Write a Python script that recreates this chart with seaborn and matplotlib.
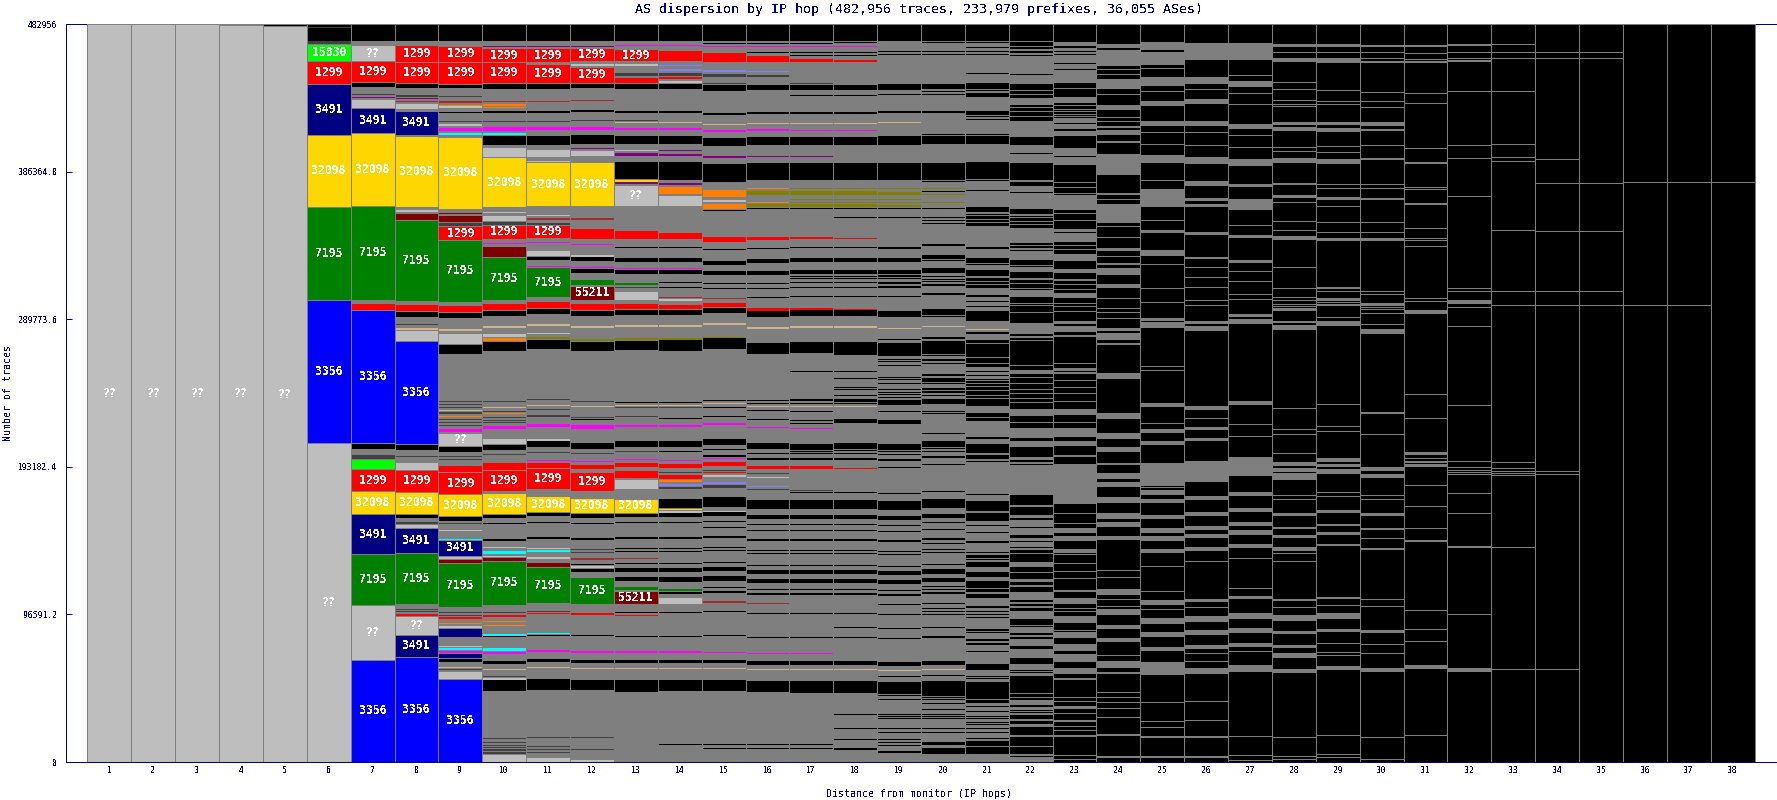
import numpy as np
import pandas as pd
import seaborn as sns
import matplotlib
matplotlib.use("Agg")
import matplotlib.pyplot as plt

TOTAL = 482956
y_ticks = [0, 96591.2, 193182.4, 289773.6, 386364.8, 482956]
y_tick_labels = ["0", "96591.2", "193182.4", "289773.6", "386364.8", "482956"]
hops = list(range(1, 39))

# AS groups (labelled ones carry their number)
R, B, N, G, Y, L, M, Q = "1299", "3356", "3491", "7195", "32098", "15830", "55211", "??"
X, K, P, U, O, T, C, D, E, A, V, W = "rest", "none", "mag", "pur", "ora", "tan", "cya", "bro", "mar", "dgr", "oli", "lav"
LABELLED = [R, B, N, G, Y, L, M, Q]

colors = {R: "#ff0000", B: "#0000ff", N: "#000080", G: "#008000", Y: "#ffd700", L: "#00ff00",
          M: "#7f0000", Q: "#bebebe", X: "#7f7f7f", K: "#000000", P: "#ff00ff", U: "#800080",
          O: "#ff7f00", T: "#d2b48c", C: "#00ffff", D: "#a52a2a", E: "#7f0000", A: "#404040",
          V: "#808000", W: "#8080ff"}

# traces per AS at each hop, listed from the top of the column down
hop01 = [Q, 482956]
hop02 = [Q, 482956]
hop03 = [Q, 482956]
hop04 = [X, 655, Q, 482301]
hop05 = [X, 655, K, 655, Q, 481646]
hop06 = [K, 1770, A, 655, K, 8515, A, 1965, L, 11460, R, 14410, N, 33405, Y, 47160, G, 60915, B, 93665, Q, 209260]
hop07 = [K, 10680, X, 2820, Q, 10810, R, 13755, K, 3275, X, 4260, A, 980, X, 980, U, 980, X, 655, Q, 5570, N, 16700,
         Y, 47490, G, 61245, X, 1965, R, 4585, B, 87115, K, 3930, X, 3275, A, 3275, L, 6880, R, 14080, Y, 15390,
         N, 26200, G, 33405, Q, 35695, B, 66810]
hop08 = [K, 10680, X, 2820, R, 10480, R, 13755, K, 3080, X, 4390, A, 1110, X, 655, U, 655, X, 1510, D, 655, X, 460,
         Q, 3470, X, 1510, N, 15065, X, 655, Y, 45650, X, 1510, Q, 1310, X, 655, E, 4585, G, 51745, X, 1965, R, 4585,
         K, 3930, X, 4390, A, 655, X, 850, T, 1965, Q, 6900, B, 65700, K, 3930, X, 3930, A, 655, X, 3470, Q, 5045,
         R, 13560, Y, 14410, K, 2620, X, 1770, A, 2160, Q, 2425, N, 15720, G, 32750, X, 2820, A, 655, X, 1110, A, 655,
         X, 850, R, 1510, Q, 11790, N, 14410, B, 66810]
hop09 = [K, 10680, X, 2820, R, 10480, R, 13755, K, 3080, X, 5045, A, 655, X, 2620, D, 655, X, 1310, O, 1110, Q, 1310,
         X, 2160, K, 1110, X, 4580, A, 655, X, 1770, Q, 850, X, 655, P, 2620, X, 655, C, 1965, X, 980, Y, 45850,
         X, 2820, E, 655, X, 655, E, 4585, A, 2620, R, 8710, G, 39300, X, 1965, R, 4585, K, 3930, X, 5895, T, 1965,
         X, 1310, Q, 7205, K, 6550, X, 29700, A, 655, X, 1310, A, 655, X, 1310, A, 655, X, 850, T, 655, X, 1110,
         A, 850, X, 1310, O, 850, X, 1510, A, 655, X, 1310, A, 655, X, 655, A, 655, X, 1310, P, 2620, X, 655,
         Q, 8320, K, 3930, X, 2620, A, 655, X, 1000, A, 655, X, 3080, R, 5045, R, 13560, Y, 14410, K, 2620, X, 1770,
         A, 655, X, 3470, Q, 655, X, 5240, C, 655, N, 9825, X, 980, Q, 1110, E, 2620, G, 28165, X, 2820, A, 655,
         X, 1310, A, 655, X, 655, R, 1510, X, 2425, O, 655, X, 655, Q, 1965, N, 5700, X, 5895, Q, 655, C, 1965,
         P, 1965, N, 2620, X, 980, K, 1965, X, 3275, T, 655, X, 655, A, 655, X, 655, Q, 4585, B, 53055]
hop10 = [K, 10680, X, 2950, U, 655, X, 1110, R, 8515, R, 13755, K, 3470, X, 7860, D, 655, X, 1310, O, 1110, X, 655,
         O, 655, X, 2160, K, 1110, X, 5300, A, 655, X, 2620, P, 2620, X, 1310, C, 1310, X, 1110, K, 5440, X, 1310,
         Q, 6550, Y, 31900, X, 2820, Q, 655, X, 1310, Q, 3930, A, 2620, R, 8710, X, 3080, P, 655, X, 1310, E, 6550,
         G, 27510, X, 1965, R, 4585, K, 3930, X, 5895, T, 1965, X, 2620, Q, 2620, O, 2620, K, 6550, X, 32000, A, 655,
         X, 2800, T, 655, X, 1965, A, 655, X, 655, O, 850, X, 1770, A, 655, X, 1200, A, 655, X, 1000, A, 655, X, 1200,
         P, 2620, X, 5240, Q, 3930, K, 3930, X, 2620, A, 655, X, 4500, R, 5045, R, 13560, X, 980, Y, 13755, K, 2620,
         X, 3275, K, 655, X, 9170, K, 1310, X, 3930, Q, 850, X, 1110, C, 2620, X, 980, Q, 655, E, 2620, G, 28165,
         X, 4585, A, 655, X, 850, R, 1310, X, 2620, O, 655, X, 1965, O, 655, X, 5300, C, 1310, K, 655, X, 7205,
         C, 1310, X, 655, P, 1310, X, 4585, K, 1965, X, 3275, T, 655, X, 3930, A, 655, X, 655, Q, 1310, K, 6550,
         X, 30130, A, 655, X, 1965, A, 655, X, 1310, A, 655, X, 655, A, 655, X, 655, A, 1310, X, 655, A, 1110, Q, 5240]
hop11 = [K, 10680, X, 3080, U, 655, X, 1110, R, 8515, X, 1510, R, 12250, K, 3470, X, 7860, D, 655, X, 5895, K, 1110,
         X, 5300, A, 655, X, 2700, P, 2620, X, 3730, K, 5440, X, 2620, Q, 5240, X, 2620, Q, 655, Y, 28620, X, 5440,
         Q, 655, X, 655, D, 1965, X, 1310, A, 1965, R, 8060, X, 3080, P, 655, X, 3930, Q, 3930, K, 2620, X, 3930,
         P, 655, G, 19650, X, 1965, R, 4585, K, 3930, X, 5895, T, 1965, X, 4585, Q, 655, X, 1110, V, 2160, K, 6550,
         X, 32000, A, 655, X, 2800, T, 655, X, 1965, A, 655, X, 3275, A, 1310, X, 3930, P, 2620, X, 7860, Q, 1310,
         K, 3930, X, 2620, A, 655, X, 4700, P, 655, X, 500, R, 3930, R, 13560, X, 4585, Y, 10480, K, 2620, X, 3275,
         K, 655, X, 9170, K, 1310, X, 5895, Q, 655, X, 655, C, 1310, X, 2620, Q, 1965, X, 1965, E, 3275, G, 22925,
         X, 4780, A, 655, X, 850, R, 850, X, 11790, C, 655, X, 655, K, 655, X, 9170, P, 1310, X, 4585, K, 1965,
         X, 3275, T, 655, X, 7205, K, 6550, X, 30130, A, 655, X, 5240, A, 655, X, 1310, A, 655, X, 1310, A, 655,
         X, 2620, Q, 3275]
hop12 = [K, 10680, X, 3080, U, 655, X, 1110, R, 8515, X, 1510, Q, 1510, X, 460, R, 10280, K, 3470, X, 7860, D, 655,
         X, 5895, K, 1110, X, 5300, A, 655, X, 2700, P, 2620, X, 3730, K, 5440, X, 2620, U, 655, X, 655, Q, 3930,
         X, 3930, Y, 28620, X, 7400, D, 1310, X, 5240, R, 7400, X, 3080, P, 655, X, 6550, Q, 1310, K, 2620, X, 3930,
         P, 655, X, 655, K, 2620, X, 3930, G, 3470, X, 655, M, 8970, X, 1965, R, 4585, K, 3930, X, 5895, T, 1965,
         X, 6350, V, 2160, K, 6550, X, 32000, A, 655, X, 2800, T, 655, X, 6550, A, 655, X, 655, K, 655, X, 2620,
         P, 2620, X, 9170, K, 3930, X, 2620, A, 655, X, 4700, P, 655, X, 1310, R, 3275, X, 1965, R, 12250, X, 4585,
         Y, 9825, K, 2620, X, 3275, K, 655, X, 9170, K, 1310, X, 5895, A, 655, X, 1310, A, 655, X, 3275, D, 1310,
         X, 2620, K, 655, Q, 1965, K, 2620, X, 3275, G, 17030, X, 6100, R, 1310, X, 13100, K, 655, X, 9170, P, 1310,
         X, 4585, K, 1965, X, 3275, T, 655, X, 7205, K, 6550, X, 30130, A, 655, X, 7205, A, 655, X, 6550, Q, 1310]
hop13 = [K, 10680, X, 3080, P, 655, X, 1965, R, 7665, X, 1965, Q, 1310, X, 3930, A, 2620, X, 655, R, 3930, K, 3470,
         X, 14410, K, 1110, X, 4780, A, 655, X, 655, T, 655, X, 2620, P, 1965, X, 3730, K, 5440, X, 3930, Q, 850,
         X, 460, U, 2620, X, 3930, K, 11135, X, 655, Y, 850, X, 460, U, 1310, X, 655, Q, 13755, X, 15065, R, 6090,
         X, 5045, K, 655, X, 6550, K, 2620, X, 3930, P, 655, X, 655, K, 2620, X, 5240, G, 1965, X, 1110, A, 655,
         X, 2160, Q, 5895, X, 1965, R, 3930, K, 3930, X, 6550, T, 1310, X, 6550, V, 1965, K, 6550, X, 33405, K, 655,
         X, 1310, T, 655, X, 655, A, 655, X, 5300, A, 655, X, 4585, P, 1965, X, 9170, K, 3930, X, 2620, A, 655, X, 4700,
         P, 655, X, 1310, R, 3275, X, 1965, R, 5240, X, 655, Q, 6350, X, 6090, Y, 9170, K, 2620, X, 3275, K, 655,
         X, 9170, K, 1310, X, 5895, K, 655, X, 1310, K, 655, X, 4000, D, 655, X, 2620, K, 655, X, 2620, K, 2620,
         X, 3275, K, 2620, X, 3275, G, 2620, X, 655, M, 8320, X, 5240, K, 655, X, 1310, R, 655, X, 13100, K, 655,
         X, 9170, P, 1310, X, 4585, K, 1965, X, 3275, T, 655, X, 7205, K, 7205, X, 45850]
hop14 = [K, 10680, X, 3080, P, 655, X, 2425, R, 7205, X, 2620, W, 655, X, 1310, W, 1965, X, 655, A, 2620, X, 655,
         R, 1310, X, 655, Q, 1965, K, 3470, X, 14410, K, 1110, X, 6090, T, 655, X, 2620, P, 1965, X, 3730, K, 5440,
         X, 3930, U, 655, X, 1965, U, 1310, X, 3930, K, 11135, X, 1965, U, 1310, X, 1110, O, 5240, X, 655, Q, 7205,
         X, 16375, R, 4780, X, 5045, K, 655, X, 6550, K, 2620, X, 3930, P, 655, X, 655, K, 2620, X, 5240, K, 655,
         X, 2620, K, 655, X, 5700, D, 655, X, 460, Q, 1310, X, 1965, R, 3275, K, 3930, X, 6550, T, 1310, X, 7205,
         V, 1310, K, 7205, X, 32750, K, 655, X, 1310, T, 655, X, 655, A, 655, X, 6500, K, 655, X, 3470, P, 1965,
         X, 9170, K, 3930, X, 2620, K, 655, X, 4780, P, 655, X, 1310, R, 3275, X, 2620, A, 655, X, 655, R, 3275,
         X, 655, O, 1310, X, 655, W, 1965, X, 655, A, 1770, X, 6090, K, 5895, X, 460, Y, 850, X, 655, Q, 1310,
         K, 2620, X, 3275, K, 655, X, 9170, K, 1310, X, 5895, K, 655, X, 1310, K, 655, X, 7205, K, 655, X, 2620,
         K, 2620, X, 3275, K, 2620, X, 3930, G, 1965, X, 655, K, 1310, X, 1965, Q, 4585, X, 5240, K, 655, X, 15065,
         K, 655, X, 9170, P, 1310, X, 4585, K, 1965, X, 3275, T, 655, X, 7205, K, 7205, X, 34060, K, 655, X, 11135]
hop15 = [K, 10680, X, 1310, K, 655, X, 1310, P, 655, X, 3275, R, 6350, X, 5240, W, 1510, X, 460, A, 2620, X, 3930,
         A, 655, X, 655, K, 3470, X, 14410, K, 1110, X, 6090, T, 655, X, 3275, P, 1310, X, 3730, K, 5440, X, 6550,
         U, 1310, X, 3930, K, 11135, X, 4390, O, 5240, X, 1310, Q, 1965, X, 655, O, 3930, X, 655, K, 655, X, 16375,
         R, 3470, X, 5045, K, 655, X, 6550, K, 2620, X, 3930, K, 2620, X, 5240, K, 655, X, 2620, K, 655, X, 5700,
         D, 655, X, 2425, R, 2620, K, 3930, X, 6550, T, 1310, X, 7860, V, 655, K, 7205, X, 32750, K, 655, X, 1310,
         T, 655, X, 1965, K, 655, X, 5240, K, 655, X, 3930, P, 1310, X, 9170, K, 3930, X, 2620, K, 655, X, 2620,
         K, 1310, X, 850, P, 655, X, 1310, R, 3275, X, 2620, A, 655, X, 655, R, 655, X, 655, Q, 1965, X, 3275,
         W, 1310, X, 655, A, 1770, X, 6090, K, 5895, X, 2620, Q, 655, K, 2620, X, 3275, K, 655, X, 3275, K, 655,
         X, 5240, K, 1310, X, 5895, K, 655, X, 1310, K, 655, X, 7205, K, 655, X, 2620, K, 2620, X, 3275, K, 2620,
         X, 3930, K, 655, X, 1965, K, 1310, X, 5240, D, 1310, X, 5240, K, 655, X, 15065, K, 655, X, 9825, P, 655,
         X, 4585, K, 1965, X, 3275, T, 655, X, 7205, K, 7205, X, 34060, K, 655, X, 1965, K, 655, X, 8515]
hop16 = [K, 10680, X, 1310, K, 655, X, 1310, P, 655, X, 3275, K, 655, X, 1310, R, 4585, X, 5895, W, 655, X, 1965,
         A, 1310, X, 5240, K, 3470, X, 14410, K, 1110, X, 6090, T, 655, X, 3275, P, 1310, X, 3730, K, 5440, X, 7205,
         U, 655, X, 3930, K, 11135, X, 5240, O, 655, X, 655, V, 3275, X, 4585, O, 655, X, 655, V, 1965, X, 655,
         K, 655, X, 17685, R, 2620, X, 5240, K, 655, X, 6550, K, 2620, X, 5240, K, 2620, X, 5240, K, 655, X, 2620,
         K, 655, X, 5435, K, 655, X, 6550, R, 1965, K, 3930, X, 6550, T, 1310, X, 9170, K, 7205, X, 30130, K, 655,
         X, 1310, K, 655, X, 1310, T, 655, X, 1965, K, 655, X, 5240, K, 655, X, 4585, P, 655, X, 9825, K, 3930,
         X, 2620, K, 655, X, 2620, K, 1310, X, 3275, R, 2620, X, 2620, A, 655, X, 1965, Q, 655, X, 5240, W, 655,
         X, 1310, A, 655, X, 6550, K, 5895, X, 3930, K, 2620, X, 3275, K, 655, X, 3275, K, 655, X, 5240, K, 1310,
         X, 5895, K, 655, X, 1310, K, 655, X, 7205, K, 655, X, 2620, K, 2620, X, 3275, K, 2620, X, 3930, K, 655,
         X, 1965, K, 1310, X, 5240, D, 655, X, 5895, K, 655, X, 15065, K, 655, X, 9825, P, 655, X, 4585, K, 2620,
         X, 2620, T, 655, X, 7205, K, 7205, X, 34060, K, 655, X, 1965, K, 655, X, 8515]
hop17 = [K, 10680, X, 1310, K, 655, X, 1310, P, 655, X, 3470, K, 655, X, 1310, K, 655, X, 1310, R, 2620, X, 13755,
         A, 655, X, 655, K, 3470, X, 3275, K, 655, X, 10480, K, 1110, X, 6090, T, 655, X, 3930, P, 655, X, 3730,
         K, 5440, X, 7205, U, 655, X, 3930, K, 11135, X, 5240, V, 655, X, 655, V, 3275, X, 2620, V, 655, X, 1310,
         V, 655, X, 655, V, 1965, X, 655, K, 655, X, 18340, R, 1310, X, 5240, K, 655, X, 6550, K, 2620, X, 5240,
         K, 2620, X, 1310, K, 655, X, 655, K, 655, X, 1965, K, 655, X, 2620, K, 655, X, 5240, K, 655, X, 7205, R, 1310,
         K, 3930, X, 6550, T, 1310, X, 9170, K, 7205, X, 11790, K, 655, X, 17685, K, 1310, X, 1310, K, 655, X, 1310,
         T, 655, X, 2620, K, 655, X, 5240, K, 655, X, 1310, K, 655, X, 2620, P, 655, X, 9825, K, 3930, X, 655, K, 655,
         X, 1310, K, 655, X, 2620, K, 1310, X, 3930, R, 1965, X, 13755, A, 655, X, 655, K, 655, X, 4585, K, 5895,
         X, 3930, K, 2620, X, 3275, K, 655, X, 3275, K, 655, X, 5240, K, 1310, X, 5895, K, 655, X, 1310, K, 655,
         X, 7205, K, 655, X, 2620, K, 2620, X, 3275, K, 2620, X, 3930, K, 655, X, 1965, K, 1310, X, 11790, K, 655,
         X, 15065, K, 655, X, 9825, P, 655, X, 4585, K, 2620, X, 2620, T, 655, X, 7205, K, 7860, X, 33405, K, 655,
         X, 1965, K, 655, X, 8515]
hop18 = [K, 10680, X, 655, K, 655, X, 1965, P, 655, X, 3470, K, 655, X, 1310, K, 655, X, 2620, R, 1310, X, 14870,
         K, 3470, X, 3275, K, 655, X, 10480, K, 1110, X, 6090, T, 655, X, 3930, P, 655, X, 3730, K, 5440, X, 11790,
         K, 11135, X, 5240, V, 655, X, 655, V, 3275, X, 2620, V, 655, X, 1310, V, 655, X, 655, V, 1965, X, 655,
         K, 655, X, 5240, K, 655, X, 13100, R, 655, X, 5240, K, 655, X, 6550, K, 2620, X, 5240, K, 2620, X, 1310,
         K, 655, X, 655, K, 655, X, 1965, K, 655, X, 2620, K, 655, X, 5240, K, 655, X, 7860, R, 655, K, 3930, X, 6550,
         T, 1310, X, 9170, K, 8515, X, 10480, K, 655, X, 3930, K, 655, X, 5240, K, 655, X, 655, K, 655, X, 3275,
         K, 655, X, 1965, K, 1965, X, 655, K, 655, X, 1310, T, 655, X, 7860, K, 2620, X, 13100, K, 3930, X, 655,
         K, 655, X, 1310, K, 655, X, 2620, K, 1310, X, 5240, R, 655, X, 15065, K, 655, X, 4585, K, 5895, X, 3930,
         K, 2620, X, 3275, K, 655, X, 3275, K, 655, X, 5240, K, 1310, X, 5895, K, 655, X, 1310, K, 655, X, 7205,
         K, 655, X, 2620, K, 2620, X, 3275, K, 2620, X, 3930, K, 655, X, 1965, K, 1310, X, 11790, K, 655, X, 8515,
         K, 655, X, 5895, K, 655, X, 15065, K, 2620, X, 2620, T, 655, X, 7205, K, 7860, X, 13755, K, 655, X, 8515,
         K, 655, X, 6550, K, 655, X, 5240, K, 1310, X, 7860]
hop19 = [K, 10680, X, 7000, K, 655, X, 1310, K, 655, X, 18995, K, 3470, X, 2620, K, 1110, X, 10480, K, 1110, X, 6090,
         T, 655, X, 8515, K, 5440, X, 11790, K, 11135, X, 5240, V, 655, X, 1310, V, 2620, X, 2620, V, 655, X, 1310,
         V, 655, X, 1310, V, 1310, X, 655, K, 655, X, 5240, K, 655, X, 18995, K, 1310, X, 5895, K, 2620, X, 5240,
         K, 2620, X, 655, K, 1310, X, 655, K, 655, X, 1965, K, 1310, X, 1310, K, 1110, X, 5240, K, 655, X, 9170,
         K, 3930, X, 7205, T, 655, X, 6550, K, 655, X, 1965, K, 8515, X, 1965, K, 655, X, 655, K, 655, X, 1965, K, 655,
         X, 7205, K, 655, X, 655, K, 655, X, 1965, K, 655, X, 3275, K, 655, X, 1310, K, 655, X, 655, K, 655, X, 1310,
         K, 655, X, 1310, K, 3275, X, 3930, K, 655, X, 5240, K, 2620, X, 13100, K, 3930, X, 655, K, 655, X, 1310,
         K, 655, X, 2620, K, 1310, X, 3930, K, 655, X, 16375, K, 655, X, 4585, K, 5895, X, 3930, K, 2620, X, 3275,
         K, 655, X, 3275, K, 655, X, 5240, K, 1310, X, 5895, K, 655, X, 1310, K, 655, X, 7205, K, 655, X, 2620,
         K, 2620, X, 3275, K, 2620, X, 3930, K, 655, X, 1965, K, 1310, X, 5240, K, 655, X, 5895, K, 655, X, 8515,
         K, 655, X, 5895, K, 655, X, 15065, K, 2620, X, 2620, T, 655, X, 3275, K, 655, X, 3275, K, 7860, X, 655,
         K, 655, X, 1965, K, 655, X, 9170, K, 655, X, 655, K, 655, X, 655, K, 655, X, 5895, K, 655, X, 1965, K, 655,
         X, 3930, K, 655, X, 1310, K, 655, X, 1310, K, 655, X, 3275, K, 1310, X, 5895]
hop20 = [K, 10680, X, 655, K, 655, X, 5240, K, 655, X, 1310, K, 655, X, 18995, K, 3470, X, 655, K, 655, X, 1310,
         K, 1110, X, 10480, K, 1110, X, 13755, K, 655, X, 460, K, 5440, X, 11790, K, 11135, X, 655, K, 655, X, 3930,
         V, 655, X, 1310, K, 655, X, 1310, V, 655, X, 4585, V, 655, X, 3275, K, 655, X, 5240, K, 655, X, 1310, K, 655,
         X, 1310, K, 655, X, 13100, K, 1310, X, 5895, K, 2620, X, 655, K, 655, X, 3930, K, 3275, X, 1965, K, 655,
         X, 1310, K, 655, X, 655, K, 655, X, 1310, K, 1310, X, 4585, K, 1310, X, 9170, K, 3930, X, 655, K, 655, X, 5895,
         T, 655, X, 6550, K, 1310, X, 1310, K, 8515, X, 655, K, 655, X, 1965, K, 1310, X, 1310, K, 655, X, 6550,
         K, 1310, X, 655, K, 2620, X, 655, K, 655, X, 2620, K, 1310, X, 655, K, 1310, X, 1310, K, 655, X, 1965,
         K, 3275, X, 4585, K, 655, X, 655, K, 655, X, 12445, K, 655, X, 4585, K, 3930, X, 655, K, 655, X, 1310,
         K, 655, X, 2620, K, 1310, X, 3930, K, 655, X, 16375, K, 655, X, 4585, K, 5895, X, 3930, K, 2620, X, 2620,
         K, 655, X, 3930, K, 655, X, 5240, K, 1310, X, 1965, K, 655, X, 3275, K, 655, X, 1310, K, 655, X, 7205, K, 655,
         X, 2620, K, 3275, X, 2620, K, 2620, X, 2620, K, 655, X, 1310, K, 655, X, 1310, K, 1310, X, 5240, K, 655,
         X, 2620, K, 655, X, 1310, K, 655, X, 1310, K, 655, X, 7860, K, 655, X, 5240, K, 1310, X, 15065, K, 2620,
         X, 2620, T, 655, X, 3275, K, 655, X, 3275, K, 9825, X, 655, K, 655, X, 655, K, 655, X, 1965, K, 655, X, 2620,
         K, 655, X, 2620, K, 655, X, 655, K, 655, X, 655, K, 655, X, 5895, K, 655, X, 1965, K, 655, X, 5895, K, 1965,
         X, 1965, K, 3930, X, 5240]
hop21 = [K, 10680, X, 655, K, 655, X, 2620, K, 655, X, 1965, K, 1110, X, 1310, K, 655, X, 11790, K, 655, X, 5895,
         K, 3470, X, 655, K, 655, X, 1310, K, 2820, X, 9170, K, 2620, X, 655, K, 655, X, 1310, K, 655, X, 9170, K, 655,
         X, 460, K, 5440, X, 11790, K, 11135, X, 655, K, 655, X, 5895, K, 655, X, 10480, K, 3275, X, 1310, K, 655,
         X, 655, K, 1965, X, 655, K, 1310, X, 655, K, 1965, X, 13100, K, 1310, X, 5895, K, 3275, X, 655, K, 655,
         X, 3275, K, 3930, X, 1310, K, 1965, X, 655, K, 1310, X, 655, K, 1965, X, 4585, K, 1310, X, 2620, K, 655,
         X, 2620, K, 655, X, 2620, K, 6550, X, 5240, T, 655, X, 1310, K, 1310, X, 3930, K, 1965, X, 655, K, 8515,
         X, 655, K, 3275, X, 655, K, 1965, X, 2620, K, 655, X, 1965, K, 655, X, 1965, K, 655, X, 655, K, 1310, X, 655,
         K, 1310, X, 655, K, 1965, X, 655, K, 2620, X, 655, K, 1310, X, 655, K, 4585, X, 4585, K, 2620, X, 655,
         K, 1965, X, 10480, K, 1310, X, 3275, K, 5895, X, 1310, K, 2620, X, 1310, K, 655, X, 20960, K, 655, X, 3930,
         K, 6550, X, 1310, K, 5240, X, 2620, K, 655, X, 3930, K, 655, X, 5240, K, 1310, X, 5895, K, 655, X, 1310,
         K, 1965, X, 655, K, 655, X, 1310, K, 3275, X, 3275, K, 3275, X, 2620, K, 3930, X, 655, K, 1965, X, 1310,
         K, 2620, X, 5240, K, 1310, X, 1965, K, 655, X, 1310, K, 655, X, 1310, K, 655, X, 7205, K, 1310, X, 655,
         K, 655, X, 3930, K, 1310, X, 1310, K, 1310, X, 3930, K, 655, X, 7860, K, 3930, X, 3930, K, 655, X, 655,
         K, 655, X, 1965, K, 11135, X, 655, K, 1965, X, 1965, K, 655, X, 2620, K, 655, X, 2620, K, 655, X, 655, K, 655,
         X, 1965, K, 655, X, 655, K, 655, X, 1965, K, 655, X, 1965, K, 655, X, 3275, K, 655, X, 1310, K, 3275, X, 655,
         K, 4585, X, 5240]
hop22 = [K, 10680, X, 655, K, 2620, X, 655, K, 1310, X, 1310, K, 1310, X, 1310, K, 655, X, 11790, K, 655, X, 5895,
         K, 3470, X, 655, K, 1965, X, 655, K, 1965, X, 4585, K, 1310, X, 655, K, 1965, X, 655, K, 2620, X, 655, K, 2620,
         X, 9825, K, 5440, X, 5240, K, 655, X, 5895, K, 11135, X, 655, K, 2620, X, 3930, K, 655, X, 10480, K, 3275,
         X, 1310, K, 655, X, 655, K, 1965, X, 655, K, 1310, X, 655, K, 1965, X, 9825, K, 1310, X, 655, K, 1310, X, 655,
         K, 655, X, 5895, K, 3275, X, 655, K, 655, X, 3275, K, 3930, X, 1310, K, 1965, X, 655, K, 2620, X, 655, K, 655,
         X, 4585, K, 3930, X, 655, K, 655, X, 655, K, 3930, X, 655, K, 5895, X, 7205, K, 1310, X, 1310, K, 1310, X, 655,
         K, 15720, X, 655, K, 2620, X, 2620, K, 1965, X, 655, K, 3275, X, 655, K, 2620, X, 655, K, 1965, X, 655,
         K, 2620, X, 655, K, 1965, X, 655, K, 3930, X, 4585, K, 3930, X, 655, K, 3275, X, 6550, K, 1965, X, 3930,
         K, 5895, X, 1965, K, 1310, X, 1310, K, 655, X, 19650, K, 6550, X, 1310, K, 5240, X, 1965, K, 1310, X, 3930,
         K, 655, X, 4585, K, 1965, X, 1965, K, 655, X, 3275, K, 655, X, 1310, K, 1965, X, 655, K, 5240, X, 3275,
         K, 3275, X, 655, K, 3930, X, 1965, K, 1965, X, 1310, K, 2620, X, 5240, K, 1310, X, 1310, K, 1310, X, 1310,
         K, 1965, X, 5240, K, 3930, X, 655, K, 655, X, 3930, K, 1310, X, 1310, K, 1310, X, 4585, K, 1965, X, 5895,
         K, 3275, X, 3930, K, 655, X, 655, K, 655, X, 1965, K, 11135, X, 655, K, 1965, X, 655, K, 1310, X, 3275,
         K, 1310, X, 1965, K, 655, X, 655, K, 655, X, 1310, K, 2620, X, 1310, K, 1965, X, 1965, K, 4585, X, 1310,
         K, 5895, X, 655, K, 4585, X, 1310, K, 655, X, 3275]
hop23 = [K, 11985, X, 2620, K, 1310, X, 1965, K, 655, X, 1310, K, 655, X, 5240, K, 655, X, 3275, K, 655, X, 8515,
         K, 3470, X, 655, K, 5240, X, 3930, K, 1310, X, 655, K, 1965, X, 655, K, 980, X, 655, K, 980, X, 655, K, 980,
         X, 655, K, 655, X, 3275, K, 655, X, 3275, K, 1310, X, 3275, K, 1965, X, 460, K, 5440, X, 5240, K, 655, X, 5895,
         K, 11135, X, 655, K, 2620, X, 655, K, 3275, X, 655, K, 655, X, 9825, K, 1965, X, 655, K, 3930, X, 655, K, 5240,
         X, 2620, K, 655, X, 5895, K, 1965, X, 655, K, 1965, X, 655, K, 2620, X, 4585, K, 5240, X, 2620, K, 3930,
         X, 1310, K, 1965, X, 655, K, 2620, X, 655, K, 1965, X, 3275, K, 3930, X, 655, K, 1310, X, 655, K, 2620, X, 655,
         K, 5895, X, 1965, K, 1310, X, 3930, K, 1965, X, 1310, K, 17030, X, 655, K, 2620, X, 1965, K, 655, X, 1965,
         K, 3930, X, 655, K, 3930, X, 655, K, 3275, X, 655, K, 4585, X, 655, K, 4585, X, 3930, K, 4585, X, 655, K, 3275,
         X, 5895, K, 2620, X, 3930, K, 5895, X, 1310, K, 4585, X, 26200, K, 5895, X, 1310, K, 5895, X, 655, K, 2620,
         X, 3275, K, 1965, X, 3275, K, 5240, X, 2620, K, 655, X, 655, K, 5240, X, 655, K, 4585, X, 655, K, 3930, X, 655,
         K, 3930, X, 655, K, 3275, X, 1310, K, 3930, X, 3930, K, 2620, X, 655, K, 1310, X, 655, K, 2620, X, 4585,
         K, 4585, X, 655, K, 655, X, 3930, K, 3930, X, 4585, K, 1965, X, 5895, K, 3930, X, 3930, K, 2620, X, 1310,
         K, 11135, X, 655, K, 1965, X, 655, K, 2620, X, 1965, K, 2620, X, 655, K, 3930, X, 1310, K, 2620, X, 655,
         K, 2620, X, 655, K, 2620, X, 1310, K, 11790, X, 655, K, 1965, X, 655, K, 1310]
hop24 = [K, 11985, X, 2620, K, 1110, X, 9825, K, 1965, X, 655, K, 1965, X, 655, K, 2620, X, 5895, K, 3470, X, 655,
         K, 5895, X, 3275, K, 3930, X, 655, K, 1965, X, 655, K, 2620, X, 655, K, 1310, X, 3275, K, 3930, X, 655,
         K, 7205, X, 12445, K, 11135, X, 1310, K, 2620, X, 655, K, 1965, X, 11790, K, 1965, X, 655, K, 5895, X, 655,
         K, 5895, X, 1965, K, 3275, X, 655, K, 3275, X, 1310, K, 1965, X, 4585, K, 5240, X, 2620, K, 5895, X, 655,
         K, 5240, X, 655, K, 1965, X, 655, K, 3275, X, 655, K, 5240, X, 1965, K, 1310, X, 3930, K, 1965, X, 1310,
         K, 17030, X, 3930, K, 20305, X, 3930, K, 8515, X, 3930, K, 4585, X, 3275, K, 6550, X, 1310, K, 4585, X, 3930,
         K, 1965, X, 2620, K, 6550, X, 3275, K, 6550, X, 3275, K, 1965, X, 3275, K, 5240, X, 2620, K, 18340, X, 655,
         K, 3275, X, 655, K, 7205, X, 3275, K, 2620, X, 655, K, 3275, X, 655, K, 1310, X, 3930, K, 5895, X, 2620,
         K, 5240, X, 2620, K, 7860, X, 655, K, 3275, X, 3930, K, 2620, X, 1310, K, 11135, X, 655, K, 1965, X, 655,
         K, 2620, X, 655, K, 3275, X, 655, K, 4585, X, 655, K, 9825, X, 1310, K, 11790, X, 1310, K, 2620]
hop25 = [K, 11985, X, 5240, K, 1310, X, 8515, K, 1965, X, 655, K, 5240, X, 5895, K, 3470, X, 655, K, 5895, X, 3275,
         K, 10480, X, 3275, K, 3930, X, 655, K, 7205, X, 655, K, 6550, X, 5240, K, 11135, X, 655, K, 3275, X, 655,
         K, 1965, X, 11790, K, 8515, X, 655, K, 5895, X, 1965, K, 11135, X, 4585, K, 5240, X, 655, K, 15065, X, 655,
         K, 8515, X, 655, K, 9825, X, 1965, K, 1310, X, 3930, K, 24890, X, 655, K, 1965, X, 655, K, 21615, X, 2620,
         K, 10480, X, 655, K, 3275, X, 2620, K, 5240, X, 2620, K, 12445, X, 15065, K, 655, X, 655, K, 1310, X, 3275,
         K, 2620, X, 2620, K, 7860, X, 2620, K, 6550, X, 3275, K, 1965, X, 3275, K, 5240, X, 2620, K, 8515, X, 655,
         K, 15720, X, 655, K, 5895, X, 3275, K, 2620, X, 655, K, 5240, X, 3930, K, 5240, X, 3275, K, 6550, X, 2620,
         K, 7860, X, 8515, K, 17685, X, 655, K, 11790, X, 655, K, 3275, X, 655, K, 5895, X, 1310, K, 11790, X, 1310,
         K, 2620]
hop26 = [K, 11985, X, 11135, K, 11135, X, 4585, K, 3470, X, 655, K, 5895, X, 3275, K, 11135, X, 3275, K, 3930, X, 655,
         K, 7860, X, 655, K, 7205, X, 4585, K, 11135, X, 3275, K, 7860, X, 1965, K, 1965, X, 1965, K, 16375, X, 1965,
         K, 14410, X, 1310, K, 5240, X, 655, K, 5895, X, 655, K, 5895, X, 655, K, 7860, X, 655, K, 2620, X, 655,
         K, 9825, X, 1965, K, 1310, X, 3275, K, 49780, X, 2620, K, 5240, X, 655, K, 5240, X, 1965, K, 5240, X, 1965,
         K, 13100, X, 13755, K, 9170, X, 2620, K, 7860, X, 2620, K, 6550, X, 2620, K, 2620, X, 2620, K, 5895, X, 2620,
         K, 6550, X, 655, K, 24235, X, 1965, K, 3275, X, 655, K, 5240, X, 3930, K, 5240, X, 3275, K, 6550, X, 2620,
         K, 2620, X, 655, K, 4585, X, 655, K, 3930, X, 3930, K, 17685, X, 655, K, 11790, X, 655, K, 9825, X, 1310,
         K, 11790, X, 1310, K, 2620]
hop27 = [K, 11985, X, 11135, K, 9825, X, 655, K, 3275, X, 3930, K, 3470, X, 655, K, 6550, X, 655, K, 12445, X, 3275,
         K, 3930, X, 655, K, 7205, X, 655, K, 7205, X, 4585, K, 11135, X, 1965, K, 7860, X, 7205, K, 9825, X, 655,
         K, 5895, X, 1965, K, 14410, X, 1310, K, 5240, X, 655, K, 5895, X, 655, K, 7860, X, 655, K, 2620, X, 655,
         K, 9170, X, 1965, K, 1310, X, 3275, K, 49780, X, 2620, K, 12445, X, 655, K, 7205, X, 655, K, 12445, X, 12445,
         K, 10480, X, 2620, K, 7860, X, 2620, K, 6550, X, 2620, K, 2620, X, 2620, K, 5895, X, 2620, K, 6550, X, 655,
         K, 18995, X, 655, K, 4585, X, 1965, K, 9170, X, 3930, K, 5240, X, 3275, K, 6550, X, 2620, K, 2620, X, 655,
         K, 8515, X, 4585, K, 41265, X, 655, K, 11790, X, 655, K, 2620, X, 655, K, 655]
hop28 = [K, 12900, X, 1770, K, 3275, X, 655, K, 3080, X, 3080, K, 13100, X, 655, K, 3930, X, 655, K, 6550, X, 655,
         K, 1510, X, 655, K, 1110, X, 655, K, 9170, X, 1965, K, 1770, X, 2425, K, 10280, X, 655, K, 1965, X, 655,
         K, 3930, X, 3080, K, 13300, X, 1310, K, 6550, X, 1965, K, 2425, X, 655, K, 11590, X, 655, K, 5700, X, 655,
         K, 3275, X, 2620, K, 17685, X, 655, K, 12445, X, 1110, K, 4780, X, 655, K, 1310, X, 655, K, 2160, X, 655,
         K, 655, X, 655, K, 655, X, 1965, K, 6550, X, 1310, K, 1310, X, 3275, K, 50890, X, 655, K, 13300, X, 655,
         K, 2620, X, 655, K, 11135, X, 655, K, 5240, X, 2620, K, 1770, X, 2160, K, 655, X, 4780, K, 9630, X, 655,
         K, 1965, X, 655, K, 8515, X, 1965, K, 7205, X, 1310, K, 3930, X, 1965, K, 5895, X, 2620, K, 1310, X, 655,
         K, 4585, X, 655, K, 24235, X, 1310, K, 3930, X, 655, K, 4585, X, 3930, K, 6550, X, 1965, K, 7205, X, 1965,
         K, 3275, X, 2620, K, 7205, X, 2620, K, 41920, X, 655, K, 11790, X, 655, K, 1310, X, 655, K, 1310]
hop29 = [K, 13100, X, 1770, K, 3275, X, 655, K, 3080, X, 3080, K, 17685, X, 655, K, 6550, X, 655, K, 1510, X, 655,
         K, 10940, X, 1965, K, 1965, X, 2290, K, 8970, X, 655, K, 3275, X, 655, K, 3930, X, 3275, K, 13100, X, 655,
         K, 1965, X, 655, K, 5240, X, 1965, K, 3930, X, 655, K, 9825, X, 655, K, 5700, X, 655, K, 3275, X, 1965,
         K, 30130, X, 1110, K, 1110, X, 655, K, 3930, X, 1965, K, 655, X, 655, K, 655, X, 1310, K, 7205, X, 655,
         K, 1965, X, 3275, K, 50890, X, 655, K, 13300, X, 655, K, 2620, X, 655, K, 17030, X, 2620, K, 1110, X, 2160,
         K, 1310, X, 3080, K, 11790, X, 655, K, 1965, X, 655, K, 8515, X, 1965, K, 7205, X, 1310, K, 3930, X, 1965,
         K, 5895, X, 1310, K, 32750, X, 1310, K, 3930, X, 655, K, 4585, X, 3930, K, 6550, X, 1965, K, 7205, X, 655,
         K, 5240, X, 655, K, 1310, X, 655, K, 6550, X, 2620, K, 41920, X, 655, K, 11790, X, 655, K, 1310, X, 655, K, 2620]
hop30 = [K, 13100, X, 1770, K, 3275, X, 655, K, 3080, X, 655, K, 850, X, 1310, K, 18995, X, 655, K, 5240, X, 655,
         K, 3275, X, 655, K, 9170, X, 1965, K, 1965, X, 1510, K, 9170, X, 655, K, 7860, X, 1310, K, 15065, X, 655,
         K, 1965, X, 655, K, 5895, X, 1310, K, 14410, X, 655, K, 5700, X, 655, K, 3275, X, 1965, K, 32095, X, 655,
         K, 1310, X, 655, K, 5240, X, 1965, K, 655, X, 655, K, 655, X, 655, K, 1965, X, 655, K, 6550, X, 655, K, 1965,
         X, 3275, K, 50890, X, 655, K, 13300, X, 655, K, 20305, X, 2620, K, 1965, X, 2620, K, 11135, X, 655, K, 1965,
         X, 655, K, 8515, X, 1965, K, 7205, X, 1310, K, 5240, X, 655, K, 5895, X, 1310, K, 31440, X, 655, K, 3930,
         X, 655, K, 15065, X, 1965, K, 7205, X, 655, K, 5240, X, 655, K, 8515, X, 2620, K, 41920, X, 655, K, 13755, X, 655,
         K, 1310]
hop31 = [K, 13100, X, 1310, K, 3730, X, 655, K, 3080, X, 655, K, 850, X, 1310, K, 18995, X, 655, K, 5240, X, 655,
         K, 28165, X, 655, K, 7860, X, 1310, K, 15065, X, 655, K, 655, X, 655, K, 7860, X, 1310, K, 14410, X, 655,
         K, 5700, X, 655, K, 655, X, 655, K, 3275, X, 655, K, 32095, X, 655, K, 1310, X, 655, K, 5240, X, 2620,
         K, 50435, X, 655, K, 14410, X, 655, K, 20960, X, 1965, K, 1965, X, 655, K, 1310, X, 1310, K, 655, X, 1965,
         K, 11135, X, 655, K, 12445, X, 655, K, 13755, X, 655, K, 6550, X, 1310, K, 43230, X, 655, K, 11135, X, 655,
         K, 7205, X, 655, K, 14410, X, 2620, K, 41920, X, 655, K, 16375]
hop32 = [K, 13100, X, 1310, K, 3730, X, 655, K, 3080, X, 655, K, 850, X, 1310, K, 18995, X, 655, K, 34060, X, 655,
         K, 7860, X, 655, K, 24235, X, 655, K, 59605, X, 655, K, 1310, X, 655, K, 5240, X, 2620, K, 1965, X, 655,
         K, 11135, X, 655, K, 51090, X, 655, K, 36025, X, 850, K, 2620, X, 655, K, 1310, X, 655, K, 655, X, 655, K, 655,
         X, 655, K, 11790, X, 655, K, 12445, X, 655, K, 20960, X, 1310, K, 43230, X, 655, K, 34060, X, 2620, K, 58950]
hop33 = [K, 13100, X, 655, K, 4390, X, 655, K, 3080, X, 655, K, 20960, X, 655, K, 34060, X, 655, K, 7860, X, 655,
         K, 1965, X, 655, K, 44540, X, 655, K, 39300, X, 655, K, 8515, X, 655, K, 102180, X, 655, K, 3275, X, 655,
         K, 1310, X, 655, K, 655, X, 655, K, 655, X, 655, K, 46505, X, 655, K, 79255, X, 655, K, 60260]
hop34 = [K, 18140, X, 655, K, 3080, X, 655, K, 65500, X, 655, K, 15065, X, 655, K, 30785, X, 655, K, 39300, X, 655,
         K, 8515, X, 655, K, 108075, X, 655, K, 1310, X, 655, K, 127070, X, 655, K, 60260]
hop35 = [K, 18140, X, 655, K, 3080, X, 655, K, 81220, X, 655, K, 30785, X, 655, K, 39300, X, 655, K, 8515, X, 655,
         K, 298680]
hop36 = [K, 103290, X, 655, K, 79910, X, 655, K, 298680]
hop37 = [K, 103290, X, 655, K, 79910, X, 655, K, 298680]
hop38 = [K, 103290, X, 655, K, 379245]

columns = [hop01, hop02, hop03, hop04, hop05, hop06, hop07, hop08, hop09, hop10, hop11, hop12, hop13,
           hop14, hop15, hop16, hop17, hop18, hop19, hop20, hop21, hop22, hop23, hop24, hop25, hop26,
           hop27, hop28, hop29, hop30, hop31, hop32, hop33, hop34, hop35, hop36, hop37, hop38]

GRAY = "#7f7f7f"
NAVY = "#000080"
MONO = "DejaVu Sans Mono"

sns.set_style("white")
plt.rcParams["font.family"] = [MONO, "DejaVu Sans"]
plt.rcParams["text.antialiased"] = False

fig = plt.figure(figsize=(17.77, 8.0), dpi=100)
ax = fig.add_axes([65.5 / 1777, 1 - 762 / 800, 1711 / 1777, 737.7 / 800])

for hop, col in zip(hops, columns):
    d = pd.DataFrame({"as": col[::2], "traces": col[1::2]})
    d["traces"] = d["traces"] * TOTAL / d["traces"].sum()
    d["seg"] = ["s%d" % i for i in range(len(d))]
    d["hop"] = hop
    n_before = len(ax.patches)
    # first hue level ends up on top of the stack
    sns.histplot(data=d, x="hop", weights="traces", hue="seg", hue_order=list(d["seg"]),
                 palette=[colors[a] for a in d["as"]], multiple="stack", discrete=True,
                 alpha=1, edgecolor=GRAY, linewidth=0.72, antialiased=False, legend=False, ax=ax)
    for p in ax.patches[n_before:]:
        fc = matplotlib.colors.to_hex(p.get_facecolor())
        if fc == colors[K] or fc == GRAY or p.get_height() < 1965:
            p.set_linewidth(0)
    # ASN text on the big enough cells
    top = TOTAL
    for a, t in zip(d["as"], d["traces"]):
        if a in LABELLED and t >= 7530:
            ax.text(hop, top - t / 2, a, color="white", ha="center", va="center",
                    fontsize=8.3, fontweight="bold", zorder=6)
        top -= t

ax.vlines(np.arange(0.5, 39), 0, TOTAL, color=GRAY, linewidth=0.72, antialiased=False, zorder=4)
ax.hlines(TOTAL, 0.5, 38.5, color=GRAY, linewidth=0.72, antialiased=False, zorder=4, clip_on=False)

ax.set_xlim(0, 39)
ax.set_ylim(0, TOTAL)
ax.set_xticks(hops)
ax.set_xticklabels([str(h) for h in hops])
ax.set_yticks(y_ticks)
ax.set_yticklabels(y_tick_labels)
ax.tick_params(axis="x", length=0, pad=3, labelsize=5.9, labelcolor=NAVY)
ax.tick_params(axis="y", direction="in", left=True, length=4, width=0.72, color=NAVY, pad=6,
               labelsize=5.9, labelcolor=NAVY)
for s in ax.spines.values():
    s.set_visible(True)
    s.set_color(NAVY)
    s.set_linewidth(0.72)
ax.set_axisbelow(False)

ax.set_xlabel("Distance from monitor (IP hops)", color=NAVY, fontsize=7.2)
ax.xaxis.set_label_coords(0.4988, -0.036)
ax.set_ylabel("Number of traces", color=NAVY, fontsize=7.2)
ax.yaxis.set_label_coords(-0.0305, 0.5)
ax.set_title("AS dispersion by IP hop (482,956 traces, 233,979 prefixes, 36,055 ASes)",
             color=NAVY, fontsize=9.6, pad=8, x=0.4988)

fig.savefig("out.png", dpi=100)
